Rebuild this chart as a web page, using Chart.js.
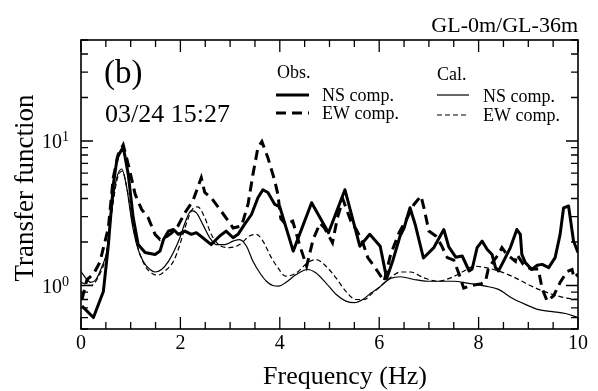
<!DOCTYPE html>
<html>
<head>
<meta charset="utf-8">
<script src="https://cdn.jsdelivr.net/npm/chart.js@4/dist/chart.umd.min.js"></script>
<style>
html,body{margin:0;padding:0;background:#fff;}
canvas{display:block;}
</style>
</head>
<body>
<canvas id="c" width="598" height="391"></canvas>
<script>
// ---- data (frequency in Hz, transfer function amplitude) ----
const freqObsNS = [0.02,0.25,0.45,0.55,0.65,0.73,0.85,0.95,1.05,1.15,1.29,1.49,1.59,1.66,1.76,1.86,1.96,2.09,2.22,2.32,2.45,2.62,2.79,2.92,3.06,3.16,3.29,3.43,3.56,3.66,3.76,3.9,4.0,4.27,4.64,4.98,5.31,5.61,5.81,6.02,6.15,6.28,6.42,6.5,6.62,6.73,6.89,7.1,7.3,7.4,7.54,7.67,7.81,7.87,7.97,8.07,8.17,8.27,8.34,8.4,8.5,8.64,8.77,8.84,8.87,8.94,9.07,9.18,9.28,9.41,9.54,9.64,9.71,9.81,9.91,10.0];
const valObsNS  = [0.72,0.6,0.91,1.9,5.0,7.7,9.1,5.9,2.95,1.92,1.69,1.64,1.73,2.08,2.38,2.44,2.26,2.38,2.26,2.32,2.14,1.92,2.2,2.38,2.14,2.26,2.65,3.1,4.05,4.6,4.4,3.64,3.5,1.73,3.74,2.32,4.6,1.87,2.26,1.87,1.12,1.51,2.2,2.5,3.45,2.6,1.55,1.83,2.44,1.85,1.57,1.6,1.26,1.3,1.83,2.03,1.78,1.64,1.33,1.26,1.47,1.83,2.44,2.26,1.64,1.44,1.29,1.38,1.4,1.33,1.56,2.26,3.45,3.55,2.03,1.69];

const freqObsEW = [0.02,0.12,0.25,0.38,0.55,0.65,0.75,0.85,0.95,1.09,1.22,1.35,1.49,1.59,1.69,1.82,1.95,2.09,2.25,2.42,2.49,2.62,2.82,2.99,3.06,3.23,3.36,3.46,3.56,3.64,3.76,3.9,3.96,4.02,4.12,4.26,4.4,4.54,4.67,4.81,4.9,5.06,5.16,5.27,5.43,5.55,5.67,5.77,5.87,5.97,6.1,6.23,6.4,6.53,6.7,6.84,6.9,7.0,7.14,7.25,7.37,7.5,7.61,7.7,7.85,8.06,8.14,8.2,8.4,8.47,8.57,8.74,8.77,8.9,9.05,9.2,9.28,9.38,9.51,9.64,9.78,9.88,9.92,10.0];
const valObsEW  = [0.8,1.1,1.2,1.45,2.5,5.6,8.1,9.4,6.9,4.27,3.36,2.95,2.26,2.08,2.14,2.3,2.58,3.19,3.84,5.57,4.4,4.05,3.27,2.72,2.5,2.58,3.64,5.88,9.0,9.9,7.67,5.28,4.3,2.9,2.65,2.79,1.9,1.36,2.08,2.7,2.5,1.98,2.95,3.94,2.79,2.4,1.98,1.56,1.4,1.25,1.07,1.64,2.32,2.79,3.64,4.16,3.45,2.38,2.2,1.9,1.56,1.5,1.19,0.96,1.0,1.03,1.07,1.33,1.64,1.83,1.64,1.47,1.64,1.4,1.3,1.3,0.95,0.78,0.85,1.05,1.25,1.29,1.13,1.2];

const freqCalNS = [0.0,0.1,0.2,0.3,0.42,0.52,0.62,0.72,0.82,0.92,1.02,1.12,1.25,1.39,1.49,1.62,1.76,1.89,1.99,2.09,2.22,2.32,2.45,2.59,2.72,2.89,3.06,3.19,3.33,3.46,3.6,3.73,3.86,3.98,4.12,4.33,4.56,4.73,4.93,5.13,5.33,5.5,5.67,5.84,6.0,6.1,6.23,6.43,6.7,6.97,7.24,7.5,7.77,8.14,8.4,8.67,8.94,9.21,9.48,9.75,10.0];
const valCalNS  = [1.25,1.12,1.05,1.1,1.35,1.73,3.45,5.57,6.4,4.75,2.79,1.92,1.47,1.29,1.24,1.29,1.47,1.78,2.14,2.7,3.3,3.19,2.65,2.14,1.92,1.92,2.03,2.08,1.87,1.47,1.22,1.07,1.0,0.99,1.05,1.19,1.29,1.22,1.04,0.87,0.78,0.76,0.8,0.89,0.97,1.04,1.12,1.15,1.1,1.07,1.07,1.07,1.04,0.99,0.94,0.82,0.74,0.68,0.66,0.64,0.6];

const freqCalEW = [0.0,0.2,0.35,0.5,0.62,0.72,0.83,0.93,1.03,1.15,1.3,1.45,1.55,1.69,1.86,1.99,2.09,2.25,2.35,2.49,2.62,2.82,2.99,3.19,3.39,3.53,3.66,3.83,3.96,4.12,4.33,4.56,4.73,4.93,5.13,5.33,5.53,5.7,5.87,6.1,6.26,6.43,6.63,6.9,7.17,7.44,7.71,7.91,8.14,8.4,8.67,8.94,9.21,9.48,9.75,10.0];
const valCalEW  = [1.05,1.0,1.15,1.6,3.2,5.3,6.2,4.6,2.8,1.8,1.35,1.2,1.18,1.26,1.47,1.92,2.5,3.4,3.5,2.95,2.26,1.87,1.83,1.92,2.2,2.26,2.03,1.56,1.33,1.16,1.22,1.44,1.51,1.36,1.13,0.91,0.8,0.8,0.89,1.04,1.16,1.24,1.24,1.13,1.07,1.13,1.26,1.36,1.33,1.26,1.16,1.04,0.94,0.87,0.82,0.8];

const xMajorTicks = [0,2,4,6,8,10];
const yMajorTicks = [1,10];
const yMajorLabels = ['0','1'];
const seriesNames = ['NS comp.','EW comp.'];

function pts(f,v){ return f.map((x,i)=>({x:x,y:v[i]})); }

const SERIF = '"Liberation Serif", "DejaVu Serif", serif';

const decor = {
  id:'decor',
  afterDraw(chart){
    const ctx = chart.ctx;
    const a = chart.chartArea;
    const xs = chart.scales.x, ys = chart.scales.y;
    ctx.save();
    ctx.strokeStyle = '#000';
    ctx.fillStyle = '#000';
    // frame
    ctx.lineWidth = 1.6;
    ctx.strokeRect(a.left, a.top, a.right - a.left, a.bottom - a.top);
    // x ticks (inside)
    ctx.lineWidth = 1.3;
    for (let k = 0; k <= 20; k++) {
      const v = k * 0.5;
      const px = xs.getPixelForValue(v);
      const major = xMajorTicks.includes(v);
      const len = major ? 12 : 7;
      ctx.beginPath();
      ctx.moveTo(px, a.bottom); ctx.lineTo(px, a.bottom - len);
      ctx.moveTo(px, a.top); ctx.lineTo(px, a.top + len);
      ctx.stroke();
    }
    // y ticks (inside)
    const yvals = [];
    for (let d of [0.1,1,10]) for (let m = 1; m <= 9; m++) {
      const v = +(m*d).toFixed(3);
      if (v >= 0.5 && v <= 50) yvals.push(v);
    }
    for (const v of yvals) {
      const py = ys.getPixelForValue(v);
      const major = yMajorTicks.includes(v);
      const len = major ? 12 : 7;
      ctx.beginPath();
      ctx.moveTo(a.left, py); ctx.lineTo(a.left + len, py);
      ctx.moveTo(a.right, py); ctx.lineTo(a.right - len, py);
      ctx.stroke();
    }
    // x tick labels
    ctx.font = '20px ' + SERIF;
    ctx.textAlign = 'center';
    ctx.textBaseline = 'alphabetic';
    for (const v of xMajorTicks) {
      ctx.fillText(String(v), xs.getPixelForValue(v), a.bottom + 20);
    }
    // y tick labels 10^n
    yMajorTicks.forEach((v, i) => {
      const py = ys.getPixelForValue(v);
      ctx.font = '14px ' + SERIF;
      const supW = ctx.measureText(yMajorLabels[i]).width;
      const right = a.left - 12;
      ctx.textAlign = 'right';
      ctx.textBaseline = 'alphabetic';
      ctx.fillText(yMajorLabels[i], right, py + 0);
      ctx.font = '20px ' + SERIF;
      ctx.fillText('10', right - supW, py + 7);
    });
    // axis titles
    ctx.font = '26px ' + SERIF;
    ctx.textAlign = 'center';
    ctx.textBaseline = 'alphabetic';
    ctx.fillText('Frequency (Hz)', 345, 384);
    ctx.save();
    ctx.translate(33, 188);
    ctx.rotate(-Math.PI/2);
    ctx.font = '27px ' + SERIF;
    ctx.fillText('Transfer function', 0, 0);
    ctx.restore();
    // header text
    ctx.font = '22px ' + SERIF;
    ctx.textAlign = 'right';
    ctx.fillText('GL-0m/GL-36m', a.right, 32);
    ctx.textAlign = 'left';
    ctx.font = '33px ' + SERIF;
    ctx.fillText('(b)', 104, 83);
    ctx.font = '26px ' + SERIF;
    ctx.fillText('03/24 15:27', 105, 122);
    // legend
    ctx.font = '18px ' + SERIF;
    ctx.fillText('Obs.', 277, 78);
    ctx.fillText(seriesNames[0], 322, 101);
    ctx.fillText(seriesNames[1], 322, 119);
    ctx.fillText('Cal.', 437, 80);
    ctx.fillText(seriesNames[0], 483, 102);
    ctx.fillText(seriesNames[1], 483, 121);
    const ds = chart.data.datasets;
    const sample = (d, x1, x2, y) => {
      ctx.save();
      ctx.lineWidth = d.borderWidth;
      ctx.setLineDash(d.borderDash || []);
      ctx.beginPath(); ctx.moveTo(x1, y); ctx.lineTo(x2, y); ctx.stroke();
      ctx.restore();
    };
    sample(ds[0], 276, 309, 95);
    sample(ds[1], 276, 309, 113);
    sample(ds[2], 437, 469, 95);
    sample(ds[3], 437, 469, 115);
    ctx.restore();
  }
};

new Chart(document.getElementById('c'), {
  type: 'line',
  data: {
    datasets: [
      {label:'Obs. NS comp.', data: pts(freqObsNS, valObsNS), borderColor:'#000', borderWidth:3, pointRadius:0, tension:0, fill:false, borderJoinStyle:'round'},
      {label:'Obs. EW comp.', data: pts(freqObsEW, valObsEW), borderColor:'#000', borderWidth:3, borderDash:[10,6], pointRadius:0, tension:0, fill:false},
      {label:'Cal. NS comp.', data: pts(freqCalNS, valCalNS), borderColor:'#000', borderWidth:1.2, pointRadius:0, cubicInterpolationMode:'monotone', fill:false},
      {label:'Cal. EW comp.', data: pts(freqCalEW, valCalEW), borderColor:'#000', borderWidth:1.2, borderDash:[5,3], pointRadius:0, cubicInterpolationMode:'monotone', fill:false}
    ]
  },
  options: {
    responsive: false,
    animation: false,
    devicePixelRatio: 1,
    layout: {padding: {left:81, right:20, top:40, bottom:62}},
    plugins: {legend:{display:false}, tooltip:{enabled:false}},
    scales: {
      x: {type:'linear', min:0, max:10, display:false},
      y: {type:'logarithmic', min:0.5, max:50, display:false}
    }
  },
  plugins: [decor]
});
</script>
</body>
</html>
